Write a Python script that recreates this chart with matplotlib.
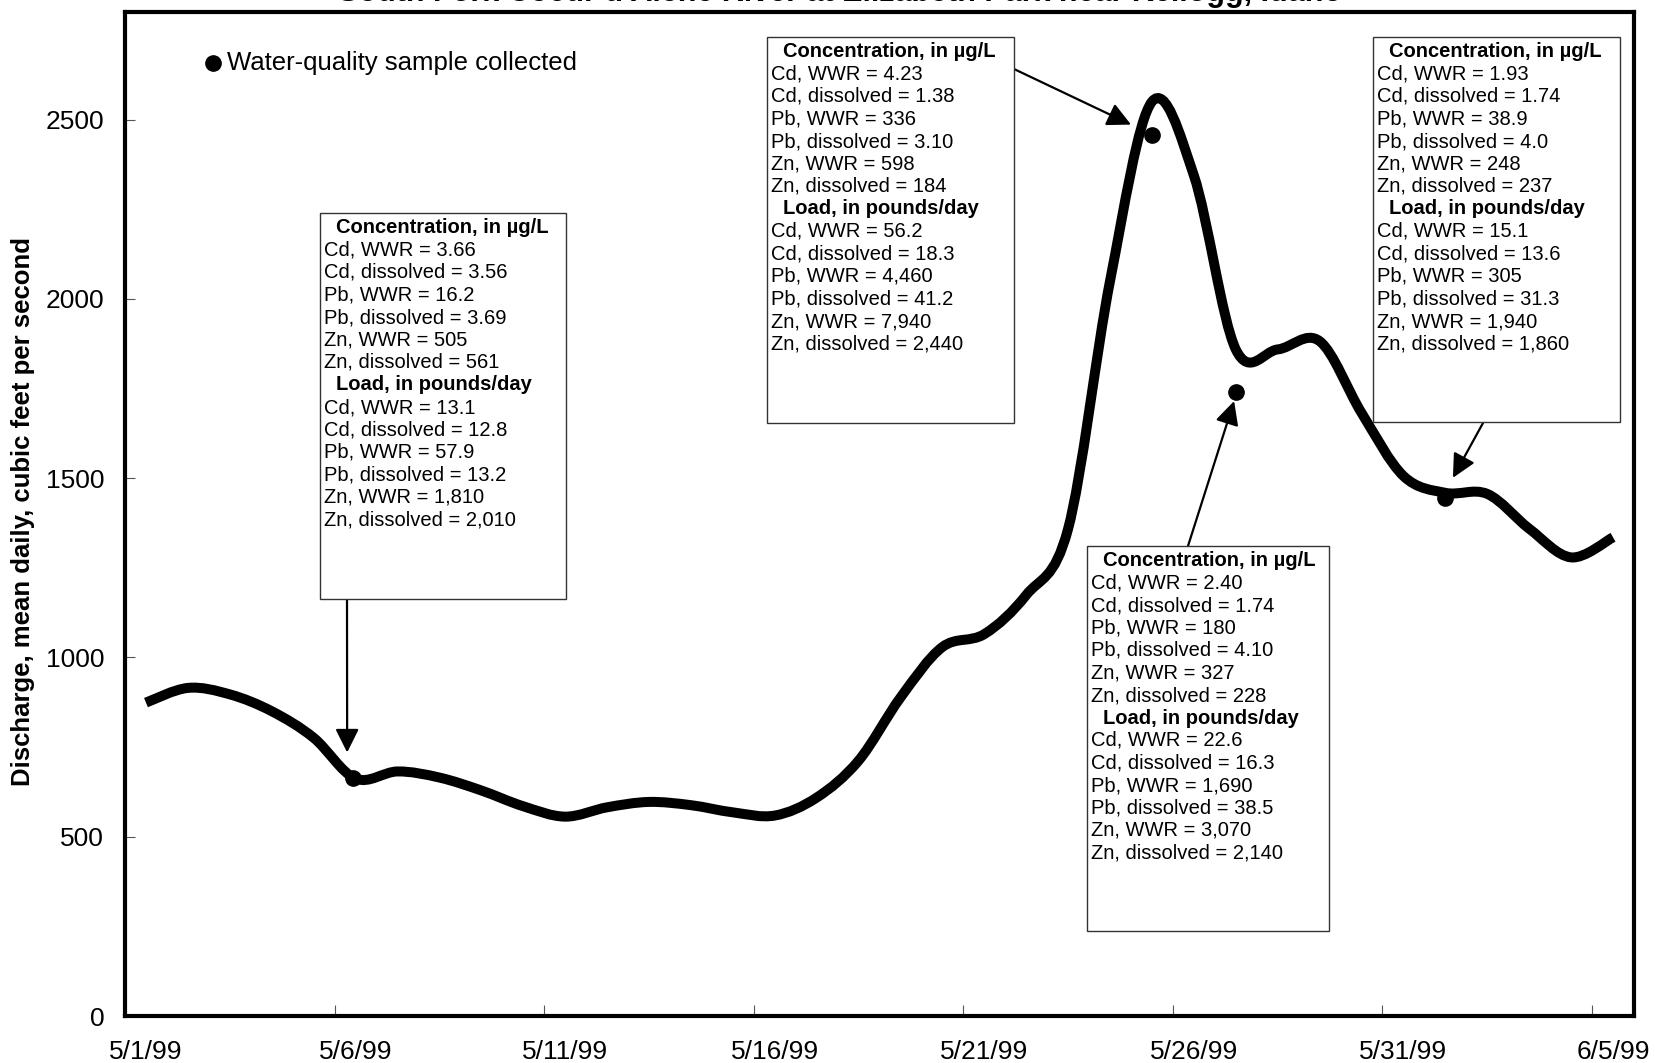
import numpy as np
import matplotlib.pyplot as plt
from matplotlib.path import Path
from matplotlib.patches import PathPatch, Rectangle
from matplotlib.lines import Line2D

plt.rcParams['font.family'] = ['Liberation Sans', 'DejaVu Sans']

W, H = 1656, 1063

# daily mean discharge, cfs, 5/1/99 through 6/5/99
discharge = [874, 915, 897, 850, 776, 662, 682, 665, 629, 585,
             556, 582, 597, 588, 568, 559, 609, 712, 888, 1029,
             1065, 1174, 1359, 2050, 2550, 2344, 1859, 1859, 1882, 1682,
             1506, 1459, 1456, 1359, 1279, 1335]
date_labels = ['5/1/99', '5/6/99', '5/11/99', '5/16/99',
               '5/21/99', '5/26/99', '5/31/99', '6/5/99']

# water-quality samples (days after 5/1/99 00:00, discharge)
sample_day = [5.45, 24.5, 26.5, 31.5]
sample_q = [665, 2458, 1740, 1445]

box_values = [
    ['3.66', '3.56', '16.2', '3.69', '505', '561',
     '13.1', '12.8', '57.9', '13.2', '1,810', '2,010'],
    ['4.23', '1.38', '336', '3.10', '598', '184',
     '56.2', '18.3', '4,460', '41.2', '7,940', '2,440'],
    ['2.40', '1.74', '180', '4.10', '327', '228',
     '22.6', '16.3', '1,690', '38.5', '3,070', '2,140'],
    ['1.93', '1.74', '38.9', '4.0', '248', '237',
     '15.1', '13.6', '305', '31.3', '1,940', '1,860'],
]
row_names = ['Cd, WWR', 'Cd, dissolved', 'Pb, WWR', 'Pb, dissolved',
             'Zn, WWR', 'Zn, dissolved']

fig = plt.figure(figsize=(W / 100, H / 100), dpi=100)
ax = fig.add_axes([125 / W, 1 - 1016 / H, (1634 - 125) / W, (1016 - 12) / H])


def fx(px):
    return px / W


def fy(py):
    return 1 - py / H


# smoothed line through the daily means (Excel style bezier)
x = np.arange(len(discharge)) + 0.5
y = np.array(discharge, dtype=float)
pts = np.column_stack([x, y])
verts = [pts[0]]
codes = [Path.MOVETO]
n = len(pts)
for i in range(n - 1):
    p0 = pts[max(i - 1, 0)]
    p1 = pts[i]
    p2 = pts[i + 1]
    p3 = pts[min(i + 2, n - 1)]
    c1 = p1 + (p2 - p0) / 6
    c2 = p2 - (p3 - p1) / 6
    verts += [c1, c2, p2]
    codes += [Path.CURVE4] * 3
ax.add_patch(PathPatch(Path(verts, codes), fill=False, lw=7.2, ec='black',
                       capstyle='butt', joinstyle='round'))

ax.plot(sample_day, sample_q, 'o', color='black', ms=11, zorder=5)

ax.set_xlim(0, 36)
ax.set_ylim(0, 2800)
ax.set_xticks(np.arange(0, 36, 5))
ax.set_xticklabels([])
ax.set_xticks(np.arange(0, 36, 5) + 0.5, minor=True)
ax.set_xticklabels(date_labels, minor=True)
ax.tick_params(axis='x', which='major', direction='in', length=8, width=0.8,
               color='#555555')
ax.tick_params(axis='x', which='minor', length=0, pad=17, labelsize=19)
ax.set_yticks(range(0, 2501, 500))
ax.tick_params(axis='y', direction='in', length=7, width=0.8, color='#555555',
               pad=15, labelsize=19)
for s in ax.spines.values():
    s.set_linewidth(3)

fig.text(fx(23), fy(512), 'Discharge, mean daily, cubic feet per second',
         rotation=90, ha='center', va='center', fontsize=18.5, fontweight='bold')

fig.text(fx(840), fy(1.5),
         "South Fork Coeur d'Alene River at Elizabeth Park near Kellogg, Idaho",
         ha='center', va='baseline', fontsize=22, fontweight='bold')

# legend
fig.add_artist(Line2D([fx(213)], [fy(63)], transform=fig.transFigure,
                      marker='o', color='black', ms=11, ls='none'))
fig.text(fx(227), fy(63), 'Water-quality sample collected', ha='left',
         va='center', fontsize=18.5)

boxes = [(320, 213, 566, 599), (767, 37, 1014, 423),
         (1087, 546, 1329, 931), (1373, 37, 1620, 422)]
arrow_from = [(347, 599), (1014, 69), (1188, 546), (1483, 423)]
arrow_to = [(5.30, 735), (24.0, 2486), (26.46, 1715), (31.68, 1501)]

for (l, t, r, b), vals in zip(boxes, box_values):
    fig.add_artist(Rectangle((fx(l), fy(b)), fx(r - l), (b - t) / H,
                             transform=fig.transFigure, fill=True, fc='white',
                             ec='#333333', lw=1, zorder=3))
    lines = [('Concentration, in µg/L', True)]
    lines += [(f'{nm} = {v}', False) for nm, v in zip(row_names, vals[:6])]
    lines += [('Load, in pounds/day', True)]
    lines += [(f'{nm} = {v}', False) for nm, v in zip(row_names, vals[6:])]
    for k, (txt, bold) in enumerate(lines):
        fig.text(fx(l + (16 if bold else 4)), fy(t + 14.5 + 22.5 * k), txt,
                 ha='left', va='center', fontsize=14.5,
                 fontweight='bold' if bold else 'normal', zorder=4)

for (sx, sy), tip in zip(arrow_from, arrow_to):
    ax.annotate('', xy=tip, xycoords='data', xytext=(fx(sx), fy(sy)),
                textcoords='figure fraction',
                arrowprops=dict(arrowstyle='-|>', mutation_scale=36, lw=1.6,
                                color='black', shrinkA=0, shrinkB=0),
                zorder=6)

fig.savefig('out.png', dpi=100)
